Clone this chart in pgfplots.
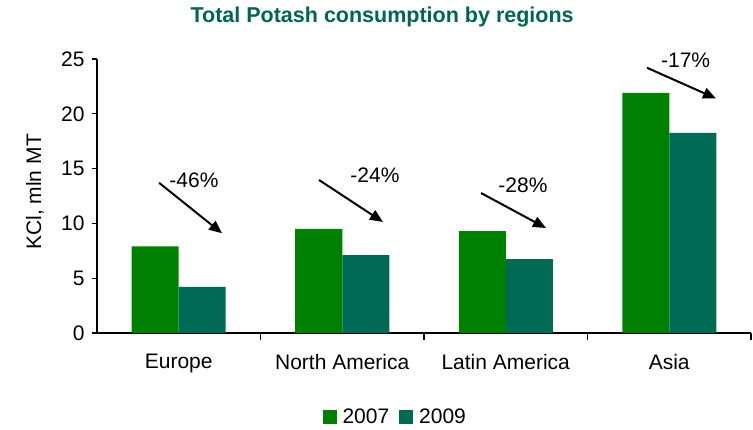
\documentclass[border=0pt]{standalone}
\usepackage{fontspec}
\setmainfont{Liberation Sans}
\usepackage{pgfplots}
\pgfplotsset{compat=1.18}
\usetikzlibrary{arrows.meta}
\definecolor{gA}{HTML}{008000}
\definecolor{gB}{HTML}{006A55}
\definecolor{ttl}{HTML}{00664F}
\begin{document}
\begin{tikzpicture}[font=\fontsize{21}{25}\selectfont]
\useasboundingbox (-97pt,-96pt) rectangle (656pt,333pt);
\begin{axis}[
  at={(0,0)}, anchor=south west,
  scale only axis, width=654pt, height=274pt,
  ybar=0pt, bar width=47pt,
  xmin=-0.5, xmax=3.5, ymin=0, ymax=25,
  axis x line*=bottom, axis y line*=left,
  axis line style={line width=1.3pt, black},
  xtick={0,1,2,3},
  xticklabels={Europe,North America,Latin America,Asia},
  minor xtick={0.5,1.5,2.5,3.5},
  major x tick style={draw=none},
  minor tick length=7pt,
  x tick style={line width=1.3pt, black},
  ytick={0,5,...,25},
  y tick style={line width=1.3pt, black},
  major tick length=5pt,
  tick align=outside,
  /pgf/number format/assume math mode=true,
  ticklabel style={font=\fontsize{21}{25}\selectfont},
  xticklabel style={yshift=-13pt},
  yticklabel style={xshift=-4pt},
  ylabel={KCl, mln MT},
  ylabel style={at={(axis description cs:-0.095,0.515)}, anchor=center, rotate=0},
  clip=false,
  legend columns=2,
  legend style={at={(0.456,-0.307)}, anchor=center, draw=none, fill=none,
    font=\fontsize{21}{25}\selectfont,
    /tikz/every odd column/.append style={column sep=4pt},
    /tikz/every even column/.append style={column sep=8pt}},
  legend image code/.code={\fill[#1] (0pt,-7pt) rectangle (14pt,7pt);},
]
\addplot[fill=gA, draw=none] coordinates {(0,7.9) (1,9.5) (2,9.3) (3,21.9)};
\addplot[fill=gB, draw=none] coordinates {(0,4.2) (1,7.1) (2,6.75) (3,18.25)};
\legend{2007,2009}
\tikzset{arr/.style={line width=2pt, -{Triangle[length=13pt,width=11pt]}}}
\draw[arr] (axis cs:-0.12,13.7) -- (axis cs:0.265,9.1);
\draw[arr] (axis cs:0.858,13.96) -- (axis cs:1.249,10.13);
\draw[arr] (axis cs:1.849,12.77) -- (axis cs:2.246,9.58);
\draw[arr] (axis cs:2.864,24.2) -- (axis cs:3.286,21.4);
\node at (axis cs:0.093,13.9) {-46\%};
\node at (axis cs:1.20,14.4) {-24\%};
\node at (axis cs:2.105,13.5) {-28\%};
\node at (axis cs:3.10,24.9) {-17\%};
\node[text=ttl, font=\fontsize{21.5}{25}\selectfont\bfseries] at (axis description cs:0.436,1.153) {Total Potash consumption by regions};
\end{axis}
\end{tikzpicture}
\end{document}
